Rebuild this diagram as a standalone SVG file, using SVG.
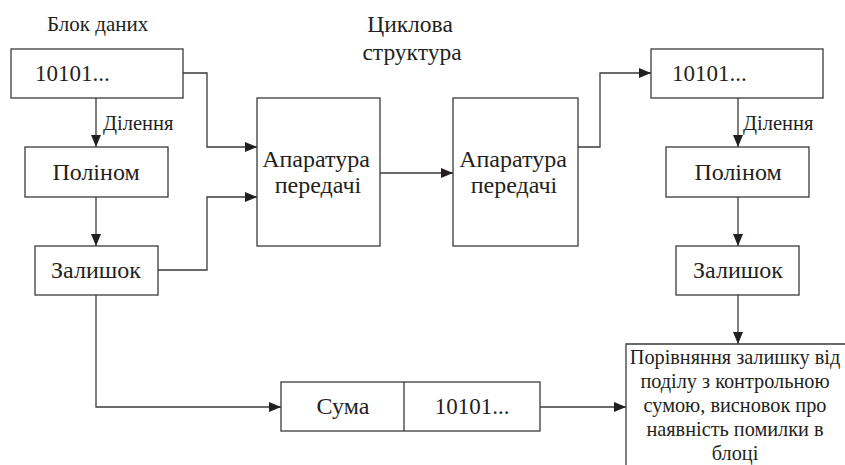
<svg xmlns="http://www.w3.org/2000/svg" width="845" height="465" viewBox="0 0 845 465">
  <style>
    .box { fill: #ffffff; stroke: #3a3a3a; stroke-width: 1.3; }
    .wire { fill: none; stroke: #3a3a3a; stroke-width: 1.3; }
    text { font-family: "Liberation Serif", "Times New Roman", serif; fill: #231f20; }
    .num { font-size: 23px; }
    .lbl { font-size: 24px; text-anchor: middle; }
    .numc { font-size: 23px; text-anchor: middle; }
    .cap { font-size: 21px; }
    .edge { font-size: 20.5px; }
    .title { font-size: 23.5px; text-anchor: middle; }
    .note { font-size: 20.3px; text-anchor: middle; }
  </style>
  <defs>
    <marker id="arrow" viewBox="0 0 12 10" refX="12" refY="5" markerWidth="12" markerHeight="10" markerUnits="userSpaceOnUse" orient="auto">
      <path d="M0,0 L12,5 L0,10 Z" fill="#231f20"/>
    </marker>
  </defs>

  <rect width="845" height="465" fill="#ffffff"/>

  <!-- free-standing captions -->
  <text class="cap" x="47" y="31">Блок даних</text>
  <text class="title" x="410" y="32">Циклова</text>
  <text class="title" x="412" y="60">структура</text>

  <!-- connectors -->
  <g id="connectors">
    <path class="wire" d="M96,98 V147" marker-end="url(#arrow)"/>
    <path class="wire" d="M96,197 V246" marker-end="url(#arrow)"/>
    <path class="wire" d="M183,73 H207 V147 H257" marker-end="url(#arrow)"/>
    <path class="wire" d="M158,270 H207 V197 H257" marker-end="url(#arrow)"/>
    <path class="wire" d="M380,173 H453" marker-end="url(#arrow)"/>
    <path class="wire" d="M578,147 H600 V73 H651" marker-end="url(#arrow)"/>
    <path class="wire" d="M738,98 V147" marker-end="url(#arrow)"/>
    <path class="wire" d="M738,197 V246" marker-end="url(#arrow)"/>
    <path class="wire" d="M738,295 V344" marker-end="url(#arrow)"/>
    <path class="wire" d="M96,295 V407 H281" marker-end="url(#arrow)"/>
    <path class="wire" d="M540,407 H626" marker-end="url(#arrow)"/>
    <text class="edge" x="103" y="130">Ділення</text>
    <text class="edge" x="743" y="130">Ділення</text>
  </g>

  <!-- sender side -->
  <g id="block-left">
    <rect class="box" x="11" y="49" width="172" height="49"/>
    <text class="num" x="35" y="81">10101...</text>
  </g>
  <g id="poly-left">
    <rect class="box" x="25" y="147" width="143" height="50"/>
    <text class="lbl" x="96" y="180">Поліном</text>
  </g>
  <g id="rem-left">
    <rect class="box" x="35" y="246" width="123" height="49"/>
    <text class="lbl" x="96" y="278">Залишок</text>
  </g>

  <!-- transmission equipment -->
  <g id="tx-1">
    <rect class="box" x="257" y="98" width="123" height="148"/>
    <text class="lbl" x="316" y="167">Апаратура</text>
    <text class="lbl" x="318" y="193">передачі</text>
  </g>
  <g id="tx-2">
    <rect class="box" x="453" y="98" width="125" height="148"/>
    <text class="lbl" x="513" y="167">Апаратура</text>
    <text class="lbl" x="514" y="193">передачі</text>
  </g>

  <!-- receiver side -->
  <g id="block-right">
    <rect class="box" x="651" y="49" width="172" height="49"/>
    <text class="num" x="672" y="81">10101...</text>
  </g>
  <g id="poly-right">
    <rect class="box" x="666" y="147" width="143" height="50"/>
    <text class="lbl" x="738" y="180">Поліном</text>
  </g>
  <g id="rem-right">
    <rect class="box" x="676" y="246" width="123" height="49"/>
    <text class="lbl" x="738" y="278">Залишок</text>
  </g>

  <!-- checksum frame -->
  <g id="sum">
    <rect class="box" x="281" y="382" width="259" height="49"/>
    <line class="wire" x1="404" y1="382" x2="404" y2="431"/>
    <text class="lbl" x="343" y="414">Сума</text>
    <text class="numc" x="472" y="414">10101...</text>
  </g>

  <!-- comparison / verdict -->
  <g id="compare">
    <path class="wire" d="M626,465 V344 H845"/>
    <text class="note" x="735" y="364">Порівняння залишку від</text>
    <text class="note" x="735" y="388">поділу з контрольною</text>
    <text class="note" x="735" y="412">сумою, висновок про</text>
    <text class="note" x="735" y="436">наявність помилки в</text>
    <text class="note" x="735" y="460">блоці</text>
  </g>
</svg>
